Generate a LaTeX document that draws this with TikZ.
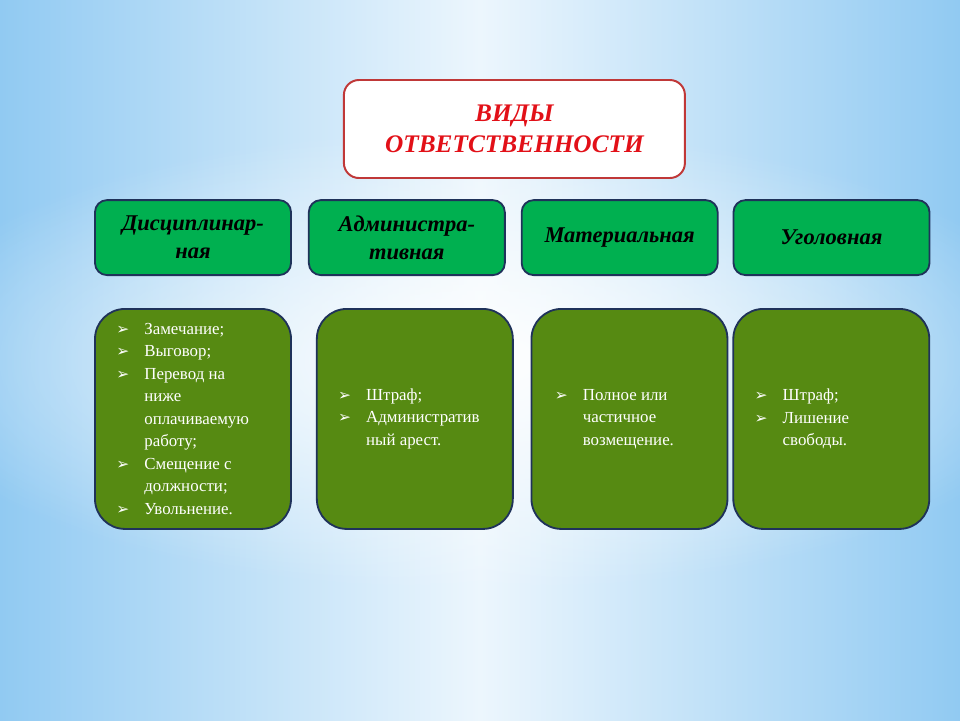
\documentclass[tikz,border=0pt]{standalone}
\usepackage{fontspec}
\setmainfont{Liberation Serif}
\newfontfamily\bulletfont{DejaVu Sans}
\usetikzlibrary{positioning,fadings,shapes}
\definecolor{skyblue}{RGB}{145,202,242}
\definecolor{paleblue}{RGB}{236,246,253}
\definecolor{hdrgreen}{RGB}{0,176,80}
\definecolor{boxgreen}{RGB}{86,138,18}
\definecolor{navyline}{RGB}{31,50,90}
\definecolor{titlered}{RGB}{226,16,24}
\definecolor{titleline}{RGB}{192,56,56}
\tikzfading[name=glow,inner color=transparent!0,outer color=transparent!100]
\def\bl{\makebox[0.7cm][l]{\bulletfont\fontsize{11}{11}\selectfont ➢}}
\def\ind{\hspace*{0.7cm}}

\begin{document}
\begin{tikzpicture}[node distance=0.4cm,
    titl/.style={draw=titleline,fill=white,line width=1.4pt,rounded corners=0.375cm,minimum width=8.525cm,minimum height=2.45cm,align=center,text=titlered,font=\fontsize{18}{22}\selectfont\bfseries\itshape},
    hdr/.style={draw=navyline,fill=hdrgreen,line width=1.3pt,rounded corners=0.3cm,minimum width=4.9cm,minimum height=1.875cm,align=center,font=\fontsize{16}{20}\selectfont\bfseries\itshape},
    lstbox/.style={draw=navyline,fill=boxgreen,line width=1.3pt,rounded corners=0.75cm,minimum width=4.9cm,minimum height=5.5cm},
    lst/.style={anchor=west,align=left,text=white,inner sep=0pt,font=\fontsize{12}{16}\selectfont}]
%
   \useasboundingbox (0,0) rectangle (24,-18);
   % background
   \fill[left color=skyblue,right color=skyblue,middle color=paleblue] (0,0) rectangle (24,-18);
   \fill[white,path fading=glow,opacity=0.95] (12,-9) ellipse [x radius=15cm,y radius=5.8cm];
%
   \node[titl]                       (T)  at (12.86,-3.225) {ВИДЫ\\ОТВЕТСТВЕННОСТИ};
   \node[hdr]                        (H1) at (4.825,-5.94)  {Дисциплинар-\\ная};
   \node[hdr,right=0.4cm of H1]      (H2) {Администра-\\тивная};
   \node[hdr,right=0.375cm of H2]    (H3) {Материальная};
   \node[hdr,right=0.35cm of H3]     (H4) {Уголовная};
%
   \node[lstbox,below=0.8cm of H1]   (B1) {};
   \node[lstbox,right=0.6cm of B1]   (B2) {};
   \node[lstbox,right=0.42cm of B2]  (B3) {};
   \node[lstbox,right=0.1cm of B3]   (B4) {};
%
   \node[lst] (L1) at ([xshift=0.55cm]B1.west) {\bl Замечание;\\\bl Выговор;\\\bl Перевод на\\\ind ниже\\\ind оплачиваемую\\\ind работу;\\\bl Смещение с\\\ind должности;\\\bl Увольнение.};
   \node[lst] (L2) at ([xshift=0.55cm]B2.west) {\bl Штраф;\\\bl Административ\\\ind ный арест.};
   \node[lst] (L3) at ([xshift=0.6cm]B3.west)  {\bl Полное или\\\ind частичное\\\ind возмещение.};
   \node[lst] (L4) at ([xshift=0.55cm]B4.west) {\bl Штраф;\\\bl Лишение\\\ind свободы.};
\end{tikzpicture}
\end{document}
